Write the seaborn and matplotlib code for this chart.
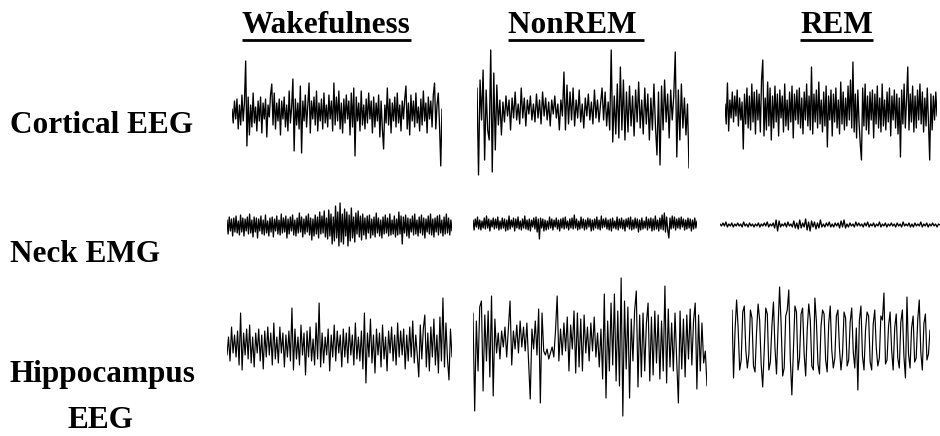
import numpy as np
import matplotlib
matplotlib.use("Agg")
import matplotlib.pyplot as plt
from matplotlib.lines import Line2D
import seaborn as sns

# ---------------- data (deviation from baseline) ----------------
states = ["Wakefulness", "NonREM ", "REM"]
signals = ["Cortical EEG", "Neck EMG", "Hippocampus\nEEG"]

cortical_wake = [
    4, -10, 12, -6, 14, -16, 8, -12, 18, -8,
    10, 52, -33, 16, -22, 8, -14, 20, -10, 6,
    -18, 12, -8, 16, -20, 10, -6, 14, -24, 8,
    -4, 18, 29, -12, 20, -16, 10, -8, 14, -22,
    12, -6, 16, -14, 8, -18, 22, -10, 6, 34,
    -38, 14, -12, 10, -16, 27, -40, 12, -8, 18,
    -14, 8, 30, -20, 12, -6, 16, -12, 22, -18,
    10, -8, 14, -16, 20, -10, 8, -14, 18, -6,
    12, -18, 30, -12, 16, -8, 22, -16, 10, -20,
    14, -10, 18, -6, 12, -22, 20, -14, 25, -43,
    16, -8, 10, -18, 22, -12, 8, -16, 14, -10,
    20, -6, 12, -20, 16, -14, 10, -8, 18, -24,
    12, -16, -36, 8, -10, 25, -12, 14, -20, 10,
    -8, 16, -14, 20, -10, 8, -18, 12, -6, 14,
    27, -16, 10, -22, 18, -8, 12, -14, 20, -10,
    6, -18, 14, -12, 22, -8, 10, -20, 16, -6,
    12, -14, 18, 30, -16, 8, 20, -12, -53, 4,
]
cortical_nrem = [
    22, -65, 30, -10, 40, -50, 20, -20, -30, 60,
    -62, 37, -40, 25, -15, 10, -25, 8, -12, 14,
    -6, 10, -20, 12, -8, 18, -10, 6, -14, 22,
    -8, 12, -16, 10, -4, 14, -10, 6, -12, 16,
    -8, 10, -14, 18, -6, 12, -10, 8, -16, 10,
    -4, 14, -8, 6, -20, 10, -6, 38, -20, 25,
    -14, 18, -10, 22, -16, 10, -8, 20, -12, 6,
    -18, 12, -6, 16, -10, 8, -14, 20, -8, 10,
    -12, 6, 22, -10, 18, -16, 8, -20, 60, -32,
    14, -24, 26, -28, 43, -20, 30, -30, 18, -22,
    24, -16, 14, -26, 20, -12, 28, -18, 10, -24,
    22, -14, 16, -30, 12, -20, 26, -16, -45, 18,
    -55, 24, -20, 30, -12, 16, -28, 20, -10, 14,
    58, -47, 20, -30, 26, -18, 12, -25, 6, -58,
]
cortical_rem = [
    6, -14, 27, -21, 10, -8, 18, -12, 14, -6,
    20, -16, 12, -10, 8, -39, 16, -14, 22, -18,
    14, -20, 26, -12, 18, -24, 20, -10, 16, -22,
    30, 50, -26, 12, -20, 28, -16, 22, -30, 14,
    -18, 24, -12, 16, -26, 20, -8, 14, -22, 26,
    -16, 10, -20, 18, -12, 24, -28, 16, -10, 20,
    -14, 22, -18, 12, -24, 18, -10, 26, -16, 14,
    -20, 43, -24, 16, -12, 20, -18, 28, -14, 10,
    -22, 18, -16, 24, -37, 14, -10, 20, -26, 16,
    -12, 22, -18, 10, -24, 28, -14, 18, -20, 12,
    -16, 24, -10, 30, -18, 48, -22, 16, -28, 20,
    -12, -34, -50, 22, -16, 26, -20, 14, -24, 18,
    -10, 20, -28, 16, -14, 24, -18, 12, -22, 26,
    -16, 10, -20, 18, -12, 22, -26, 14, -10, 20,
    -18, 16, -24, 12, -47, 20, -14, 26, -18, 10,
    43, -20, 16, -12, 24, -22, 14, -18, 20, -10,
    26, -14, 18, -22, 12, -16, 22, -12, -50, 16,
    -20, 14, -10, 18, -6,
]
emg_wake = [
    6, -8, 9, -5, 7, -10, 8, -6, 10, -7,
    5, -9, 11, -6, 8, -10, 7, -5, 9, -8,
    12, -7, 6, -11, 9, -6, 8, -12, 7, -5,
    10, -8, 6, -9, 11, -7, 5, -10, 8, -6,
    9, -11, 7, -5, 10, -8, 6, -9, 12, -7,
    8, -6, 10, -12, 7, -8, 9, -5, 11, -9,
    6, -10, 8, -7, 13, -6, 9, -11, 7, -8,
    10, -6, 12, -9, 8, -14, 7, -10, 11, -8,
    9, -12, 14, -8, 10, -7, 15, -11, 8, -13,
    16, -10, 12, -18, 9, -15, 20, -12, 14, -20,
    23, -16, 12, -18, 17, -10, 14, -20, 11, -15,
    18, -12, 9, -16, 13, -8, 15, -11, 10, -14,
    12, -9, 8, -13, 10, -7, 11, -12, 7, -9,
    9, -11, 13, -7, 8, -10, 6, -12, 9, -8,
    11, -7, 8, -10, 12, -9, 6, -8, 10, -11,
    7, -9, 14, -8, 10, -18, 9, -7, 11, -10,
    8, -12, 7, -6, 10, -9, 12, -8, 6, -10,
    9, -7, 11, -9, 8, -12, 7, -6, 10, -8,
    12, -9, 7, -11, 8, -6, 10, -9, 11, -7,
    6, -10, 9, -8, 12, -7, 8, -9, 6, -5,
]
emg_nrem = [
    4, -6, 5, -3, 7, -5, 4, -6, 3, -4,
    6, -5, 8, -4, 5, -7, 4, -3, 6, -5,
    5, -4, 7, -6, 3, -5, 6, -4, 5, -7,
    4, -6, 8, -5, 4, -3, 6, -7, 5, -4,
    7, -5, 3, -6, 5, -4, 8, -5, 4, -6,
    5, -7, 4, -3, 6, -5, 7, -8, 5, -15,
    6, -4, 5, -7, 4, -6, 3, -5, 7, -4,
    5, -6, 4, -3, 6, -5, 4, -7, 5, -4,
    6, -5, 7, -4, 3, -6, 5, -4, 6, -5,
    9, -4, 5, -6, 3, -5, 7, -4, 5, -6,
    4, -5, 6, -3, 5, -7, 4, -6, 5, -4,
    7, -5, 4, -6, 8, -4, 5, -3, 6, -5,
    4, -6, 5, -7, 6, -4, 3, -5, 7, -6,
    5, -4, 6, -5, 4, -7, 5, -3, 6, -5,
    7, -6, 4, -5, 6, -4, 5, -8, 4, -6,
    6, -5, 3, -4, 7, -6, 5, -4, 6, -7,
    5, -6, 8, -5, 4, -7, 6, -5, 9, -6,
    11, -8, 7, -6, -14, 6, -5, 8, -4, 7,
    -6, 5, -4, 6, -5, 7, -3, 5, -6, 4,
    -5, 6, -4, 5, -7, 4, -5, 6, -4, 3,
]
emg_rem = [
    1, -1, 2, -1, 3, -2, 1, -1, 2, -2,
    1, -1, 2, -1, 1, -2, 3, -1, 1, -2,
    2, -1, 1, -2, 1, -1, 2, -2, 1, -1,
    2, -1, 3, -2, 1, -1, 2, -3, 5, -6,
    4, -2, 1, -1, 2, -2, 3, -1, 1, -2,
    4, -3, 2, -4, 5, -3, 2, -2, 6, -5,
    3, -6, 4, -2, 3, -4, 2, -3, 5, -2,
    1, -2, 2, -1, 3, -2, 1, -2, 2, -1,
    2, -3, 4, -2, 5, -3, 1, -2, 2, -1,
    1, -2, 3, -1, 2, -1, 1, -2, 2, -1,
    3, -2, 1, -1, 2, -2, 1, -1, 3, -2,
    1, -1, 2, -2, 1, -1, 2, -1, 1, -2,
    2, -1, 1, -2, 3, -1, 1, -1, 2, -2,
    1, -2, 2, -1, 1, -1, 3, -2, 1, -1,
    2, -2, 1, -1, 2, -1, 1, -2, 1, 0,
]
hippo_wake = [
    -8, 10, -14, 20, -6, 12, -10, 16, -18, 34,
    -23, 14, -8, 18, -12, 22, -16, 10, -20, 14,
    -6, 18, -14, 12, -22, 16, -10, 20, -8, 14,
    -18, 24, -12, 10, -16, 20, -6, 14, -20, 12,
    -10, 16, -14, 39, -23, 18, -12, 10, -18, 22,
    -8, 14, -28, 16, -10, 20, -14, 8, -18, 24,
    -12, 44, -20, 14, -16, 10, -8, 18, -24, 12,
    -10, 22, -14, 16, -6, 12, -20, 18, -10, 14,
    -16, 20, -8, 12, -18, 24, -12, 10, -14, 16,
    -22, 34, -36, 14, -10, 28, -16, 12, -26, 18,
    -8, 14, -20, 22, -12, 10, -24, 16, -6, 20,
    -14, 12, -18, 24, -10, 16, -8, 18, -22, 12,
    -14, 20, -10, 26, -16, 12, -8, -30, 22, -12,
    18, 32, -20, 14, -24, 20, -10, 28, -18, 12,
    -26, 30, -14, 49, -20, 24, -12, -33, 18, -10,
]
hippo_nrem = [
    28, -70, 20, -30, 34, 40, -50, 26, -20, 30,
    -36, 45, -55, 22, -12, 8, -18, 10, -6, 14,
    -16, 12, 40, -24, 10, -8, 16, -12, 20, -6,
    14, -10, 18, -20, -58, 12, -8, 20, -14, 32,
    -62, 28, -10, -14, -8, -18, -12, -6, -16, 10,
    45, -20, 12, -14, 18, -10, 24, -30, 16, -8,
    30, -32, 28, -26, 22, -30, 26, -12, 14, -20,
    18, -10, 24, -16, 8, -26, 12, -38, 47, -57,
    20, -30, 38, -24, 47, -40, 30, -45, 63, -75,
    40, -28, 34, -57, 22, -20, 30, 50, -46, 26,
    -36, 28, -30, 18, 38, -40, 24, -34, 30, -22,
    26, -38, 20, -30, 55, -42, 32, -26, 18, -30,
    28, -20, -62, 30, -28, 22, -36, 26, -18, 32,
    -24, 20, 38, -48, 26, -30, 18, -22, -10, -45,
]
hippo_rem = [
    30, -38, 10, 40, 12, -30, -20, 28, 34, -10,
    -28, -14, 30, 22, -26, -32, 8, 36, 20, -24,
    -47, -10, 32, 26, -30, -22, 14, 38, -8, -34,
    12, 53, 16, -36, -28, 24, 30, 50, -20, -55,
    -12, 34, 28, -30, -18, 26, 32, -14, -36, 10,
    36, 20, -26, -30, 42, 18, -24, -34, 14, 30,
    26, -20, -32, 16, 34, -10, -28, -18, 24, 30,
    -8, -30, -14, 28, 22, -26, -20, 18, 32, -12,
    -28, 12, -50, 20, 34, -16, -30, 10, 28, 24,
    -22, -30, 16, 30, -8, -26, -18, 24, 20, 47,
    -24, -20, 14, 28, -10, -30, 12, 26, -18, -28,
    18, 30, -16, -38, 43, -14, -28, 12, 24, -22,
    -18, 20, 40, -12, -30, 16, 26, -20, -14, 10,
]

traces = [
    [cortical_wake, cortical_nrem, cortical_rem],
    [emg_wake, emg_nrem, emg_rem],
    [hippo_wake, hippo_nrem, hippo_rem],
]

# ---------------- layout (pixel boxes: left, right, centre-y, height) ----------------
W, H = 940, 436
boxes = [
    [(232, 442, 113, 150), (477, 689, 110, 150), (725, 937, 110, 150)],
    [(227, 452, 226, 60), (473, 697, 224, 60), (720, 940, 225, 60)],
    [(227, 452, 347, 170), (473, 707, 341, 170), (732, 930, 340, 170)],
]
line_widths = [0.95, 0.95, 0.85]

sns.set_style("white")
plt.rcParams["font.family"] = ["Liberation Serif", "DejaVu Serif"]
plt.rcParams["text.color"] = "black"

fig = plt.figure(figsize=(W / 100, H / 100), dpi=100)
fig.patch.set_facecolor("white")

for r in range(3):
    for c in range(3):
        x0, x1, yc, h = boxes[r][c]
        vals = np.asarray(traces[r][c], dtype=float)
        ax = fig.add_axes([x0 / W, 1 - (yc + h / 2) / H, (x1 - x0) / W, h / H])
        sns.lineplot(x=np.arange(len(vals)), y=vals, ax=ax, color="black",
                     linewidth=line_widths[r], estimator=None)
        ax.set_xlim(0, len(vals) - 1)
        ax.set_ylim(-h / 2, h / 2)
        ax.axis("off")
        ax.patch.set_alpha(0)

fs = 22.5
# column headers (underlined)
header_left = [242, 508, 800]
header_texts = []
for name, xl in zip(states, header_left):
    t = fig.text(xl / W, 1 - 33 / H, name, ha="left", va="baseline",
                 fontsize=fs, fontweight="bold", color="black")
    header_texts.append(t)

# row labels
fig.text(10 / W, 1 - 133 / H, "Cortical EEG", ha="left", va="baseline",
         fontsize=fs, fontweight="bold", color="black")
fig.text(10 / W, 1 - 262 / H, "Neck EMG", ha="left", va="baseline",
         fontsize=fs, fontweight="bold", color="black")
fig.text(10 / W, 1 - 382 / H, "Hippocampus", ha="left", va="baseline",
         fontsize=fs, fontweight="bold", color="black")
fig.text(100 / W, 1 - 428 / H, "EEG", ha="center", va="baseline",
         fontsize=fs, fontweight="bold", color="black")

fig.canvas.draw()
renderer = fig.canvas.get_renderer()
for t in header_texts:
    bb = t.get_window_extent(renderer)
    yline = 1 - 40 / H
    fig.add_artist(Line2D([bb.x0 / W, bb.x1 / W], [yline, yline],
                          transform=fig.transFigure, color="black",
                          linewidth=2.0, solid_capstyle="butt"))

fig.savefig("out.png", dpi=100, facecolor="white")
